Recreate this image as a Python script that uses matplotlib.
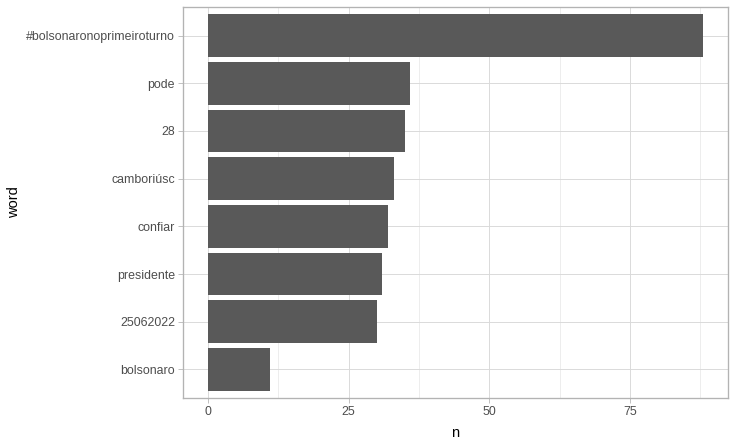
import matplotlib
matplotlib.use("Agg")
import matplotlib.pyplot as plt
from matplotlib.ticker import MultipleLocator

words = ["#bolsonaronoprimeiroturno", "pode", "28", "camboriúsc", "confiar",
         "presidente", "25062022", "bolsonaro"]
counts = [88, 36, 35, 33, 32, 31, 30, 11]
x_ticks = [0, 25, 50, 75]

plt.rcParams['font.family'] = ['Liberation Sans', 'DejaVu Sans']

fig = plt.figure(figsize=(735/96, 445/96), dpi=96)
ax = fig.add_axes([183/735, 1-398/445, (728-183)/735, (398-7)/445])

n = len(words)
ypos = list(range(n))[::-1]
ax.barh(ypos, counts, height=0.9, color="#595959", zorder=3)

xmax = max(counts)
ax.set_xlim(-0.05*xmax, xmax*1.05)
ax.set_ylim(-0.6, n-1+0.6)
ax.set_yticks(ypos)
ax.set_yticklabels(words)
ax.set_xticks(x_ticks)
ax.xaxis.set_minor_locator(MultipleLocator(12.5))

ax.grid(which="major", color="#D9D9D9", linewidth=0.7, zorder=0)
ax.grid(which="minor", axis="x", color="#DEDEDE", linewidth=0.4, zorder=0)
ax.set_axisbelow(True)
for s in ax.spines.values():
    s.set_color("#B3B3B3")
    s.set_linewidth(1.0)
ax.tick_params(which="major", length=3.5, width=0.6, color="#B3B3B3",
               labelcolor="#4D4D4D", labelsize=9.3, pad=2.5)
ax.tick_params(which="minor", length=0)
for lbl in ax.get_yticklabels():
    lbl.set_va("center_baseline")

ax.set_xlabel("n", fontsize=11, color="black", labelpad=6)
ax.set_ylabel("word", fontsize=11, color="black")
ax.yaxis.set_label_coords(-(183-21)/(728-183), 0.5)

fig.savefig("out.png", dpi=96)
